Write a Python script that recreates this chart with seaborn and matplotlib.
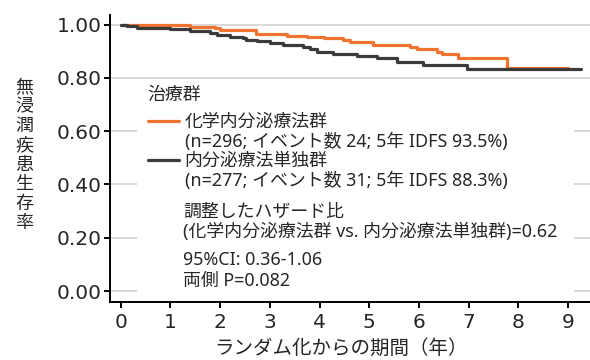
import numpy as np
import pandas as pd
import matplotlib
matplotlib.use("Agg")
import matplotlib.pyplot as plt
from matplotlib.lines import Line2D
from matplotlib.patches import Rectangle
import seaborn as sns

# Kaplan-Meier step data (time in years, survival probability)
chemo_time = [0, 0.4, 1.4, 1.9, 2.0, 2.73, 3.34, 3.74, 4.08, 4.48, 4.61, 5.08,
              5.82, 5.96, 6.36, 6.46, 6.79, 7.77, 9.0]
chemo_surv = [1.0, 0.997, 0.992, 0.987, 0.980, 0.964, 0.958, 0.954, 0.949, 0.943,
              0.935, 0.924, 0.915, 0.909, 0.899, 0.889, 0.876, 0.836, 0.836]

endo_time = [0, 0.12, 0.32, 0.99, 1.39, 1.80, 1.93, 2.20, 2.47, 2.53, 2.74, 3.0,
             3.27, 3.67, 3.81, 3.94, 4.28, 4.75, 5.15, 5.55, 6.09, 6.96, 9.25]
endo_surv = [1.0, 0.996, 0.989, 0.984, 0.976, 0.968, 0.962, 0.955, 0.949, 0.943,
             0.937, 0.932, 0.924, 0.916, 0.908, 0.899, 0.889, 0.883, 0.874, 0.861,
             0.849, 0.834, 0.834]

group_names = ["化学内分泌療法群", "内分泌療法単独群"]
group_stats = ["(n=296; イベント数 24; 5年 IDFS 93.5%)",
               "(n=277; イベント数 31; 5年 IDFS 88.3%)"]
x_ticks = [0, 1, 2, 3, 4, 5, 6, 7, 8, 9]
y_ticks = [0.0, 0.2, 0.4, 0.6, 0.8, 1.0]
hr_lines = ["調整したハザード比",
            "(化学内分泌療法群 vs. 内分泌療法単独群)=0.62",
            "95%CI: 0.36-1.06",
            "両側 P=0.082"]

colors = ["#EF7331", "#3B3B3B"]

df = pd.concat([
    pd.DataFrame({"time": chemo_time, "surv": chemo_surv, "group": group_names[0]}),
    pd.DataFrame({"time": endo_time, "surv": endo_surv, "group": group_names[1]}),
])

sns.set_style("ticks")
plt.rcParams["font.family"] = ["DejaVu Sans", "Noto Sans CJK JP"]
text_family = ["Noto Sans", "Noto Sans CJK JP"]

W, H = 590, 360
fig = plt.figure(figsize=(W / 100, H / 100), dpi=100)
ax = fig.add_axes([110 / W, 1 - 302 / H, 480 / W, 287 / H])

sns.lineplot(data=df, x="time", y="surv", hue="group", hue_order=group_names,
             palette=colors, drawstyle="steps-post", estimator=None,
             linewidth=2.3, legend=False, ax=ax, zorder=3)

ax.set_xlim(-0.215, 9.44)
ax.set_ylim(-0.041, 1.036)
ax.set_xticks(x_ticks)
ax.set_yticks(y_ticks)
ax.set_yticklabels([f"{v:.2f}" for v in y_ticks])
ax.tick_params(labelsize=14.5, length=4, width=1.4, pad=2, color="black")
ax.tick_params(axis="x", pad=4)
ax.set_xlabel("")
ax.set_ylabel("")
ax.yaxis.grid(True, color="#d5d5d5", linewidth=1.3)
ax.set_axisbelow(True)
for side in ("top", "right"):
    ax.spines[side].set_visible(False)
for side in ("left", "bottom"):
    ax.spines[side].set_linewidth(1.4)
    ax.spines[side].set_color("black")

# white panel behind the legend and statistics
ax.add_patch(Rectangle((0.33, -0.02), 8.78, 0.80, facecolor="white",
                       edgecolor="none", zorder=1))

fs = 12.9
def px(x, y):
    return (x / W, 1 - y / H)

fig.text(*px(147, 95), "治療群", fontsize=fs, ha="left", va="center",
         family=text_family)

handles = [Line2D([], [], color=colors[0], lw=2.3),
           Line2D([], [], color="none"),
           Line2D([], [], color=colors[1], lw=2.3),
           Line2D([], [], color="none")]
labels = [group_names[0], group_stats[0], group_names[1], group_stats[1]]
ax.legend(handles, labels, loc="upper left", bbox_to_anchor=px(148, 113),
          bbox_transform=fig.transFigure, frameon=False,
          prop={"family": text_family, "size": fs},
          handlelength=1.75, handletextpad=0.3, labelspacing=0.08,
          borderpad=0, borderaxespad=0)

for txt, y in zip(hr_lines, [212, 232, 260, 281]):
    fig.text(*px(183, y), txt, fontsize=fs, ha="left", va="center",
             family=text_family)

fig.text(*px(24, 155), "\n".join("無浸潤疾患生存率"), fontsize=13,
         ha="center", va="center", linespacing=1.1, family=text_family)
fig.text(*px(341, 349), "ランダム化からの期間（年）", fontsize=14,
         ha="center", va="center", family=text_family)

fig.savefig("out.png", dpi=100)
